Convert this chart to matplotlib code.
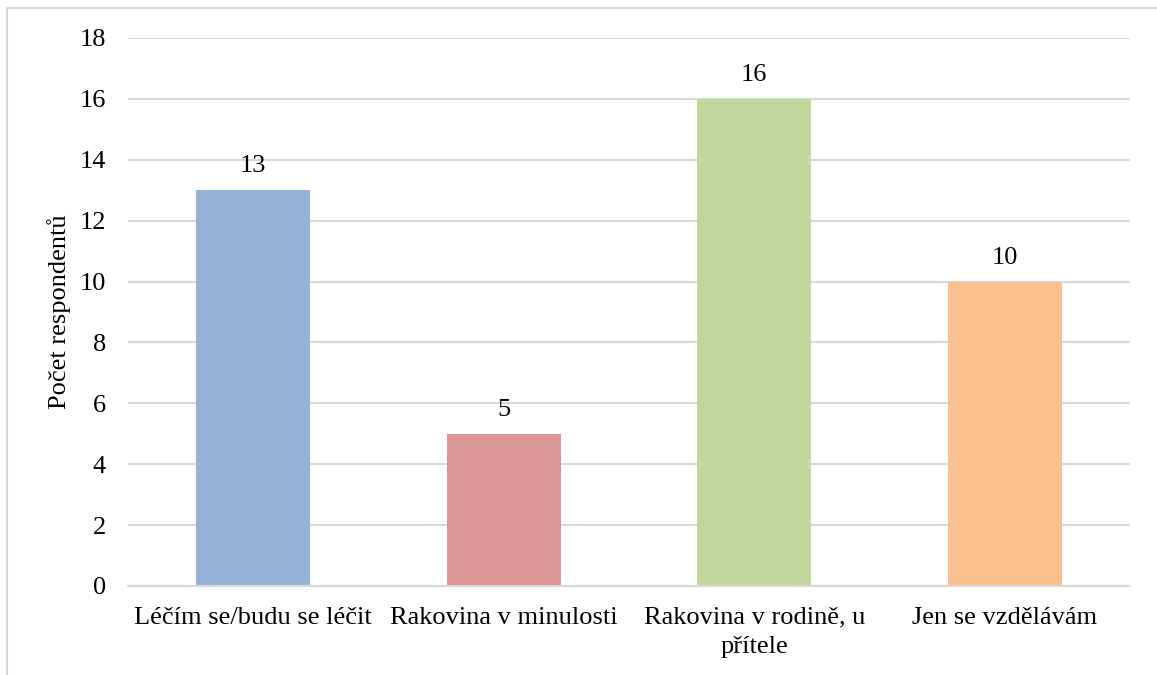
import matplotlib.pyplot as plt
from matplotlib.patches import Rectangle

categories = ["Léčím se/budu se léčit", "Rakovina v minulosti",
              "Rakovina v rodině, u\npřítele", "Jen se vzdělávám"]
counts = [13, 5, 16, 10]
colors = ["#95B3D7", "#D99694", "#C3D69B", "#FAC090"]
yticks = [0, 2, 4, 6, 8, 10, 12, 14, 16, 18]

plt.rcParams['font.family'] = ['Liberation Serif', 'DejaVu Serif']

W, H = 1157, 675
fig = plt.figure(figsize=(W / 100, H / 100), dpi=100)
ax = fig.add_axes([128 / W, 1 - 586 / H, (1130 - 128) / W, (586 - 38) / H])

x = range(len(categories))
bars = ax.bar(x, counts, width=0.455, color=colors, zorder=2)
for b, v in zip(bars, counts):
    ax.text(b.get_x() + b.get_width() / 2, v + 0.42, str(v),
            ha='center', va='bottom', fontsize=19)

ax.set_xlim(-0.5, len(categories) - 0.5)
ax.set_ylim(0, 18)
ax.set_yticks(yticks)
ax.set_xticks(list(x))
ax.set_xticklabels(categories, fontsize=19, linespacing=1.45)
ax.tick_params(axis='y', labelsize=19, length=0, pad=16)
ax.tick_params(axis='x', length=0, pad=15)
ax.grid(axis='y', color='#D9D9D9', linewidth=1.5, zorder=0)
for s in ['top', 'right', 'left']:
    ax.spines[s].set_visible(False)
ax.spines['bottom'].set_color('#D9D9D9')
ax.spines['bottom'].set_linewidth(1.5)
ax.set_ylabel("Počet respondentů", fontsize=19, labelpad=6)

# chart frame
fig.patches.append(Rectangle((7 / W, -0.1), 1.2, 1 - 8 / H + 0.1,
                             transform=fig.transFigure, fill=False,
                             edgecolor='#D9D9D9', linewidth=1.5))

fig.savefig("out.png", dpi=100)
